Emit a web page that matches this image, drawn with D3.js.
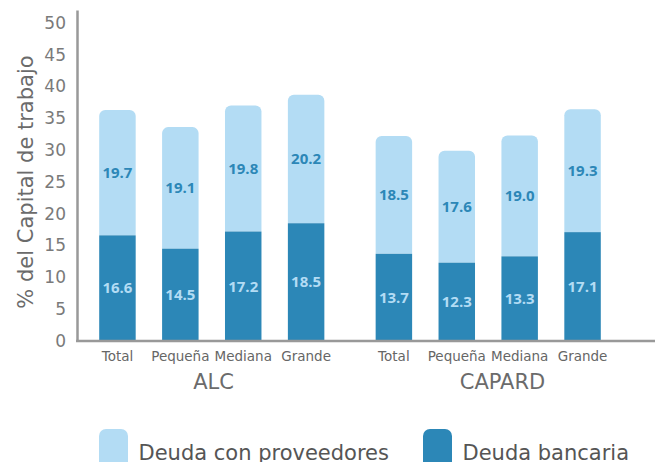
<!DOCTYPE html>
<html>
<head>
<meta charset="utf-8">
<script src="https://cdn.jsdelivr.net/npm/d3@7"></script>
<style>
  body { margin: 0; background: #fff; }
  svg { display: block; }
</style>
</head>
<body>
<script>
const groups = ["ALC", "CAPARD"];
const sizes = ["Total", "Pequeña", "Mediana", "Grande"];
// Deuda bancaria (bottom) and Deuda con proveedores (top), per group
const bancaria = [[16.6, 14.5, 17.2, 18.5], [13.7, 12.3, 13.3, 17.1]];
const proveedores = [[19.7, 19.1, 19.8, 20.2], [18.5, 17.6, 19.0, 19.3]];
const yTicks = [0, 5, 10, 15, 20, 25, 30, 35, 40, 45, 50];
const seriesNames = ["Deuda con proveedores", "Deuda bancaria"];

const W = 661, H = 462;
const light = "#b3dcf4", dark = "#2c87b7";
const axisColor = "#999999";

const svg = d3.select("body").append("svg")
    .attr("width", W)
    .attr("height", H);

const y = d3.scaleLinear().domain([0, 52]).range([341, 10]);
const axisX = 77, axisEnd = 655;

const x0 = d3.scaleBand().domain(groups).range([86, 614]).paddingInner(0.09);
const x1 = d3.scaleBand().domain(sizes).range([0, x0.bandwidth()])
    .paddingInner(0.42).paddingOuter(0.21);

// rows for drawing
const rows = [];
groups.forEach((g, gi) => {
  sizes.forEach((s, si) => {
    rows.push({ g, s, bank: bancaria[gi][si], prov: proveedores[gi][si] });
  });
});

function topRounded(x, yTop, yBot, w, r) {
  return `M${x},${yBot}V${yTop + r}A${r},${r} 0 0 1 ${x + r},${yTop}` +
         `H${x + w - r}A${r},${r} 0 0 1 ${x + w},${yTop + r}V${yBot}Z`;
}

const bars = svg.append("g");
const bw = x1.bandwidth();

// light (proveedores) segment on top
bars.selectAll("path.prov").data(rows).join("path")
    .attr("class", "prov")
    .attr("fill", light)
    .attr("d", d => topRounded(x0(d.g) + x1(d.s), y(d.bank + d.prov), y(d.bank), bw, 6));

// dark (bancaria) segment
bars.selectAll("rect.bank").data(rows).join("rect")
    .attr("class", "bank")
    .attr("fill", dark)
    .attr("x", d => x0(d.g) + x1(d.s))
    .attr("width", bw)
    .attr("y", d => y(d.bank))
    .attr("height", d => y(0) - y(d.bank));

// value labels
const lbl = svg.append("g")
    .attr("font-family", "'Open Sans', sans-serif")
    .attr("font-weight", 700)
    .attr("font-size", 15)
    .attr("text-anchor", "middle");

lbl.selectAll("text.prov").data(rows).join("text")
    .attr("class", "prov")
    .attr("fill", dark)
    .attr("x", d => x0(d.g) + x1(d.s) + bw / 2)
    .attr("y", d => y(d.bank + d.prov / 2))
    .attr("dy", "0.35em")
    .text(d => d.prov.toFixed(1));

lbl.selectAll("text.bank").data(rows).join("text")
    .attr("class", "bank")
    .attr("fill", light)
    .attr("x", d => x0(d.g) + x1(d.s) + bw / 2)
    .attr("y", d => y(d.bank / 2))
    .attr("dy", "0.35em")
    .text(d => d.bank.toFixed(1));

// y axis
const yAxis = svg.append("g")
    .attr("transform", `translate(${axisX},0)`)
    .call(d3.axisLeft(y).tickValues(yTicks).tickSize(0).tickPadding(11));
yAxis.select(".domain").attr("stroke", axisColor).attr("stroke-width", 2.5);
yAxis.selectAll("text")
    .attr("font-family", "'DejaVu Sans', sans-serif")
    .attr("font-size", 17)
    .attr("fill", "#7a7a7a");

// x axis line
svg.append("line")
    .attr("x1", axisX - 1).attr("x2", axisEnd)
    .attr("y1", y(0)).attr("y2", y(0))
    .attr("stroke", axisColor).attr("stroke-width", 2.5);

// category labels under each group
groups.forEach(g => {
  const ax = svg.append("g")
      .attr("transform", `translate(${x0(g)},${y(0)})`)
      .call(d3.axisBottom(x1).tickSize(0).tickPadding(10));
  ax.select(".domain").remove();
  ax.selectAll("text")
      .attr("font-family", "'DejaVu Sans', sans-serif")
      .attr("font-size", 13.5)
      .attr("fill", "#666");
});

// group labels, centered in each group's share of the axis
const midGap = (x0(groups[0]) + x0.bandwidth() + x0(groups[1])) / 2;
const spans = [[axisX, midGap], [midGap, axisEnd]];
svg.append("g").selectAll("text").data(groups).join("text")
    .attr("x", (g, i) => (spans[i][0] + spans[i][1]) / 2)
    .attr("y", 389)
    .attr("text-anchor", "middle")
    .attr("font-family", "'DejaVu Sans', sans-serif")
    .attr("font-size", 21)
    .attr("fill", "#6b6b6b")
    .text(g => g);

// y title
svg.append("text")
    .attr("transform", "translate(33,182) rotate(-90)")
    .attr("text-anchor", "middle")
    .attr("font-family", "'DejaVu Sans', sans-serif")
    .attr("font-size", 21)
    .attr("fill", "#6b6b6b")
    .text("% del Capital de trabajo");

// legend
const legendX = [99, 423];
const leg = svg.append("g").selectAll("g").data(seriesNames).join("g")
    .attr("transform", (d, i) => `translate(${legendX[i]},429)`);
leg.append("path")
    .attr("fill", (d, i) => i === 0 ? light : dark)
    .attr("d", topRounded(0, 0, 40, 29, 7));
leg.append("text")
    .attr("x", 39.5)
    .attr("y", 31)
    .attr("font-family", "'DejaVu Sans', sans-serif")
    .attr("font-size", 21)
    .attr("fill", "#555")
    .text(d => d);
</script>
</body>
</html>
